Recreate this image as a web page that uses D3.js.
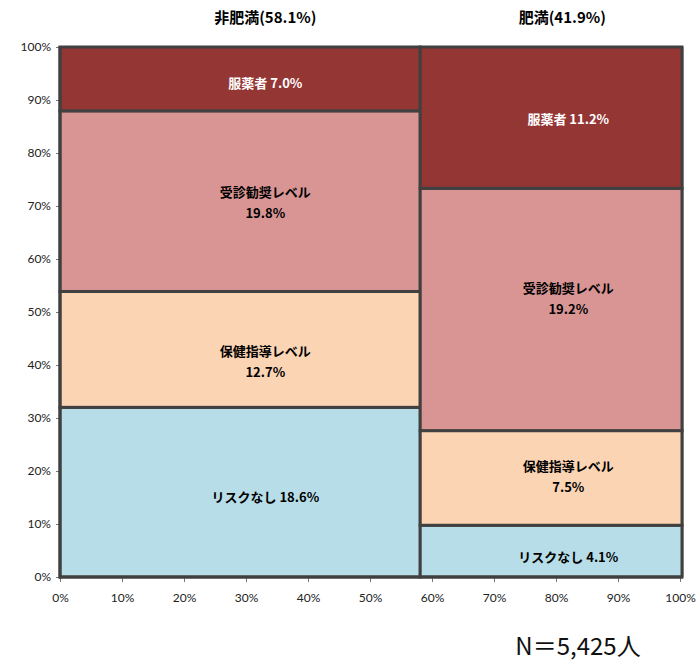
<!DOCTYPE html>
<html>
<head>
<meta charset="utf-8">
<script src="https://cdn.jsdelivr.net/npm/d3@7"></script>
<style>
  html, body { margin: 0; padding: 0; background: #fff; }
  svg { display: block; }
</style>
</head>
<body>
<svg id="chart" width="696" height="662"></svg>
<script>
// Column groups (share of all people, %)
const groups = ["非肥満", "肥満"];
const groupShares = [58.1, 41.9];

// Risk categories, bottom to top
const categories = ["リスクなし", "保健指導レベル", "受診勧奨レベル", "服薬者"];
const categoryColors = ["#B7DDE8", "#FBD4B4", "#D99594", "#943634"];
const labelColors = ["#000", "#000", "#000", "#fff"];
// whether a label puts its value on a second line
const labelTwoLines = [[false, true, true, false], [false, true, true, false]];
// vertical nudge of each label from its cell centre (px)
const labelNudge = [[5, 13, 2, 4], [6, -1, -10, 1]];

// Values per group (share of all people, %)
const nonObeseValues = [18.6, 12.7, 19.8, 7.0];
const obeseValues = [4.1, 7.5, 19.2, 11.2];
const groupValues = [nonObeseValues, obeseValues];

const tickValues = [0, 10, 20, 30, 40, 50, 60, 70, 80, 90, 100];
const totalLabel = "N＝5,425人";

const svg = d3.select("#chart");
const x = d3.scaleLinear().domain([0, 100]).range([60, 680]);
const y = d3.scaleLinear().domain([0, 100]).range([577, 47]);
const fmt = v => v.toFixed(1) + "%";
const jpFont = "'Noto Sans CJK JP', sans-serif";

// Build mosaic cells
const cells = [];
let xStart = 0;
groups.forEach((g, gi) => {
  const share = groupShares[gi];
  const vals = groupValues[gi];
  const sum = d3.sum(vals);
  let yStart = 0;
  vals.forEach((v, ci) => {
    const h = v / sum * 100;
    cells.push({ gi, ci, x0: xStart, x1: xStart + share, y0: yStart, y1: yStart + h, value: v });
    yStart += h;
  });
  xStart += share;
});

// Axis ticks (drawn first so the frame sits on top)
const yAxis = d3.axisLeft(y).tickValues(tickValues).tickFormat(d => d + "%").tickSize(4).tickPadding(5);
const xAxis = d3.axisBottom(x).tickValues(tickValues).tickFormat(d => d + "%").tickSize(5).tickPadding(11);

const gy = svg.append("g").attr("transform", "translate(60,0)").call(yAxis);
const gx = svg.append("g").attr("transform", "translate(0,577)").call(xAxis);
[gy, gx].forEach(g => {
  g.select(".domain").remove();
  g.selectAll(".tick line").attr("stroke", "#777").attr("stroke-width", 1);
  g.selectAll("text").attr("font-family", "Lato, 'Open Sans', sans-serif")
    .attr("font-size", 12).attr("fill", "#222");
});

// Light plot-area edge on the right
svg.append("line")
  .attr("x1", 683.5).attr("x2", 683.5).attr("y1", 47).attr("y2", 577)
  .attr("stroke", "#bbb").attr("stroke-width", 1);

// Cells
svg.append("g").selectAll("rect").data(cells).join("rect")
  .attr("x", d => x(d.x0))
  .attr("y", d => y(d.y1))
  .attr("width", d => (d.x1 >= 100 ? 682 : x(d.x1)) - x(d.x0))
  .attr("height", d => y(d.y0) - y(d.y1))
  .attr("fill", d => categoryColors[d.ci])
  .attr("stroke", "#404040")
  .attr("stroke-width", 3);

// Axis frame lines
svg.append("line").attr("x1", 60).attr("x2", 60).attr("y1", 46).attr("y2", 578.5)
  .attr("stroke", "#404040").attr("stroke-width", 3);
svg.append("line").attr("x1", 59).attr("x2", 683).attr("y1", 577).attr("y2", 577)
  .attr("stroke", "#404040").attr("stroke-width", 3);

// Cell labels
const labels = svg.append("g").attr("font-family", jpFont).attr("font-weight", 700)
  .attr("font-size", 13).attr("text-anchor", "middle");
cells.forEach(d => {
  const cx = x(d.x0 + (d.x1 - d.x0) * 0.57);
  const cy = (y(d.y0) + y(d.y1)) / 2 + labelNudge[d.gi][d.ci];
  const name = categories[d.ci];
  const t = labels.append("text").attr("fill", labelColors[d.ci]);
  if (labelTwoLines[d.gi][d.ci]) {
    t.append("tspan").attr("x", cx).attr("y", cy - 6).text(name);
    t.append("tspan").attr("x", cx).attr("y", cy + 15).text(fmt(d.value));
  } else {
    t.attr("x", cx).attr("y", cy + 5).text(name + " " + fmt(d.value));
  }
});

// Column titles
let acc = 0;
groups.forEach((g, gi) => {
  const share = groupShares[gi];
  svg.append("text")
    .attr("x", x(acc + share * 0.57) - (gi === 1 ? 6 : 0))
    .attr("y", 23)
    .attr("text-anchor", "middle")
    .attr("font-family", jpFont).attr("font-weight", 700).attr("font-size", 15)
    .text(g + "(" + fmt(share) + ")");
  acc += share;
});

// Sample size
svg.append("text")
  .attr("x", 578).attr("y", 655)
  .attr("text-anchor", "middle")
  .attr("font-family", jpFont).attr("font-size", 24)
  .attr("fill", "#111")
  .text(totalLabel);
</script>
</body>
</html>
